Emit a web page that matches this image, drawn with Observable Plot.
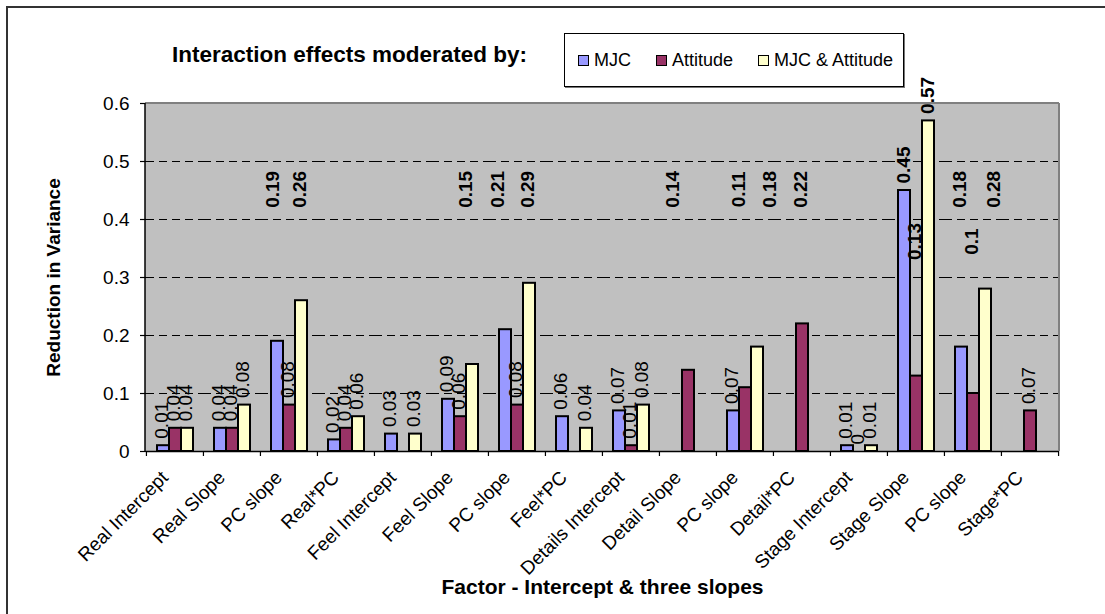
<!DOCTYPE html>
<html>
<head>
<meta charset="utf-8">
<script src="https://cdn.jsdelivr.net/npm/d3@7"></script>
<script src="https://cdn.jsdelivr.net/npm/@observablehq/plot@0.6"></script>
<style>
  html, body { margin: 0; padding: 0; background: #fff; }
  #wrap { position: relative; width: 1105px; height: 614px; overflow: hidden; font-family: "Liberation Sans", Arial, sans-serif; }
  #frame { position: absolute; left: 6px; top: 6px; width: 1200px; height: 700px; border-top: 2px solid #333; border-left: 2px solid #333; }
  #title { position: absolute; left: 172px; top: 44px; font-size: 22.5px; line-height: 22px; font-weight: bold; white-space: nowrap; }
  #legend { position: absolute; left: 564px; top: 33px; width: 325px; height: 52px; border: 1px solid #000; box-shadow: 1px 1px 0 #777;
            background: #fff; display: flex; align-items: center; padding-left: 13px; box-sizing: content-box; gap: 25px; }
  #legend .item { display: flex; align-items: center; font-size: 18px; line-height: 18px; white-space: nowrap; }
  #legend .sw { width: 9px; height: 9px; border: 1.5px solid #000; margin-right: 5px; }
  #chart { position: absolute; left: 0; top: 0; }
</style>
</head>
<body>
<div id="wrap">
  <div id="frame"></div>
  <div id="chart"></div>
  <div id="title">Interaction effects moderated by:</div>
  <div id="legend"></div>
</div>
<script>
// Reduction in variance per factor, for each moderator
const categories = ["Real Intercept", "Real Slope", "PC slope", "Real*PC", "Feel Intercept", "Feel Slope", "PC slope", "Feel*PC",
                    "Details Intercept", "Detail Slope", "PC slope", "Detail*PC", "Stage Intercept", "Stage Slope", "PC slope", "Stage*PC"];
const seriesNames = ["MJC", "Attitude", "MJC & Attitude"];
const mjc         = [0.01, 0.04, 0.19, 0.02, 0.03, 0.09, 0.21, 0.06, 0.07, null, 0.07, null, 0.01, 0.45, 0.18, null];
const attitude    = [0.04, 0.04, 0.08, 0.04, null, 0.06, 0.08, null, 0.01, 0.14, 0.11, 0.22, 0,    0.13, 0.1,  0.07];
const mjcAttitude = [0.04, 0.08, 0.26, 0.06, 0.03, 0.15, 0.29, 0.04, 0.08, null, 0.18, null, 0.01, 0.57, 0.28, null];
const yTicks = [0, 0.1, 0.2, 0.3, 0.4, 0.5, 0.6];
const seriesColors = ["#9999ff", "#993366", "#ffffcc"];

const FONT = '"Liberation Sans", Arial, sans-serif';
const W = 1105, H = 614, mL = 145, mR = 46, mT = 103, mB = 163;
const step = (W - mL - mR) / categories.length;

// long table: one row per drawn bar
const seriesValues = [mjc, attitude, mjcAttitude];
const rows = [];
categories.forEach((c, i) => {
  seriesNames.forEach((s, k) => {
    const v = seriesValues[k][i];
    if (v != null) rows.push({i, series: s, value: v});
  });
});

// label placement: small values sit on their bar, larger ones are bold and
// gathered on a common row; the tallest stay on their bars
const labelRow = 0.452, lowerRow = 0.362;
const lowered = new Set(["13|Attitude", "14|Attitude"]);
const nudge = {"2|MJC": -5, "2|MJC & Attitude": -2, "5|MJC & Attitude": -7, "6|MJC": -8, "9|Attitude": -16,
               "10|Attitude": -7, "10|MJC & Attitude": 12, "11|Attitude": -2, "14|MJC & Attitude": 8};
const labels = rows.map(d => {
  const key = d.i + "|" + d.series;
  const bold = d.value >= 0.1;
  const onRow = bold && d.value < 0.45;
  return {...d, text: String(d.value), bold, onRow,
          ly: onRow ? (lowered.has(key) ? lowerRow : labelRow) : d.value,
          dx: nudge[key] ?? -2};
});

const labelMarks = [];
labelMarks.push(Plot.text(labels.filter(d => !d.bold), {
  fx: "i", x: "series", y: "ly", text: "text", rotate: -90, textAnchor: "start", dy: -7, dx: -2, fontSize: 19, fill: "black"
}));
labelMarks.push(Plot.text(labels.filter(d => d.bold && !d.onRow), {
  fx: "i", x: "series", y: "ly", text: "text", rotate: -90, textAnchor: "start", dy: -7, dx: -1, fontSize: 19, fontWeight: "bold", fill: "black"
}));
for (const [dx, group] of d3.groups(labels.filter(d => d.onRow), d => d.dx)) {
  labelMarks.push(Plot.text(group, {
    fx: "i", x: "series", y: "ly", text: "text", rotate: -90, textAnchor: "middle", dx, fontSize: 19, fontWeight: "bold", fill: "black"
  }));
}

const lastIndex = categories.length - 1;

const chart = Plot.plot({
  width: W, height: H,
  marginLeft: mL, marginRight: mR, marginTop: mT, marginBottom: mB,
  style: {fontFamily: FONT, fontSize: "19px", color: "black", background: "transparent"},
  fx: {domain: d3.range(categories.length), padding: 0, label: null, axis: null},
  x: {domain: seriesNames, paddingInner: 0, paddingOuter: 0.7, axis: null},
  y: {domain: [0, 0.6], axis: null},
  color: {domain: seriesNames, range: seriesColors},
  marks: [
    Plot.gridY({ticks: yTicks.filter(t => t > 0 && t < 0.6), stroke: "black", strokeOpacity: 1, strokeDasharray: "8,5", strokeWidth: 1}),
    Plot.barY(rows, {fx: "i", x: "series", y: "value", fill: "series", stroke: "black", strokeWidth: 2}),
    Plot.ruleY([0], {stroke: "black", strokeWidth: 1.5}),
    Plot.axisY({ticks: yTicks, tickSize: 6, tickPadding: 11, tickFormat: d => String(d), fontSize: 19, label: null, strokeWidth: 1.2}),
    // tick marks between the categories
    Plot.axisFx({anchor: "bottom", tickSize: 5, tickFormat: () => "", dx: -step / 2, label: null, strokeWidth: 1.2}),
    Plot.axisFx({anchor: "bottom", ticks: [lastIndex], tickSize: 5, tickFormat: () => "", dx: step / 2, label: null, strokeWidth: 1.2}),
    Plot.axisFx({anchor: "bottom", tickSize: 0, tickRotate: -45, tickPadding: 23, dx: -10, tickFormat: i => categories[i], fontSize: 19, label: null}),
    ...labelMarks,
    Plot.text([{i: 0}], {fx: "i", frameAnchor: "left", text: () => "Reduction in Variance", rotate: -90, dx: -93,
                         textAnchor: "middle", fontWeight: "bold", fontSize: 19}),
    Plot.text([{i: 8}], {fx: "i", frameAnchor: "bottom-left", text: () => "Factor - Intercept & three slopes", dy: 142,
                         textAnchor: "middle", fontWeight: "bold", fontSize: 21})
  ]
});

// plot-area panel behind the marks, with its border and the value axis line
const yScale = chart.scale("y");
const [yBottom, yTop] = yScale.range;
const x0 = mL, x1 = W - mR;
const svg = d3.select(chart);
svg.insert("rect", "g")
  .attr("x", x0).attr("y", yTop).attr("width", x1 - x0).attr("height", yBottom - yTop)
  .attr("fill", "#c0c0c0");
svg.append("line").attr("x1", x0).attr("x2", x1).attr("y1", yTop).attr("y2", yTop)
  .attr("stroke", "#808080").attr("stroke-width", 2);
svg.append("line").attr("x1", x1).attr("x2", x1).attr("y1", yTop).attr("y2", yBottom)
  .attr("stroke", "#808080").attr("stroke-width", 2);
svg.append("line").attr("x1", x0).attr("x2", x0).attr("y1", yTop).attr("y2", yBottom)
  .attr("stroke", "black").attr("stroke-width", 1.5);

document.getElementById("chart").appendChild(chart);

// legend
const legend = d3.select("#legend");
seriesNames.forEach((s, k) => {
  const item = legend.append("div").attr("class", "item");
  item.append("div").attr("class", "sw").style("background", seriesColors[k]);
  item.append("span").text(s);
});
</script>
</body>
</html>
